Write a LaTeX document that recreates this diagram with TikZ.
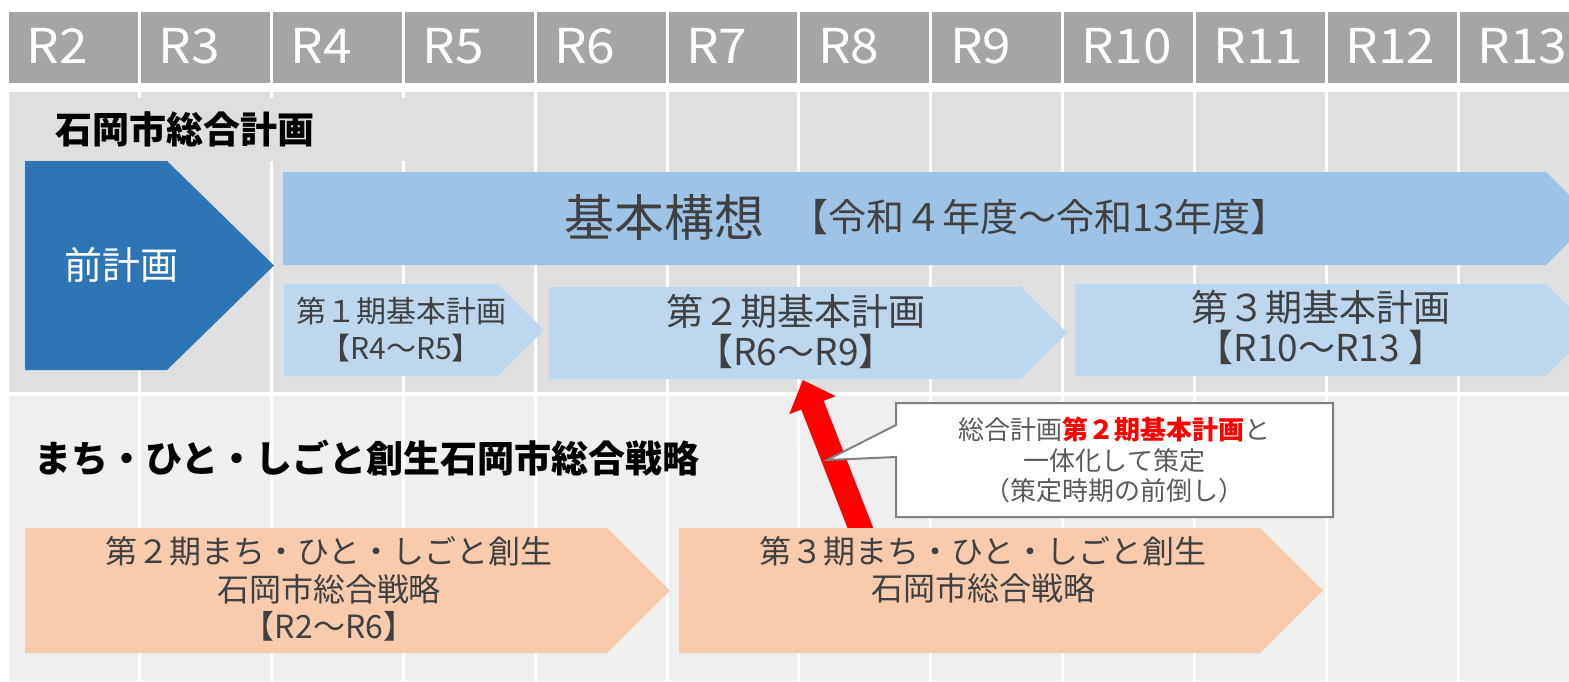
\documentclass[tikz,border=0pt]{standalone}
\usepackage{fontspec}
\setmainfont{Noto Sans CJK JP}
\newfontfamily\hdrfont[FakeStretch=1.07]{Noto Sans CJK JP}
\usetikzlibrary{arrows.meta, positioning}

\definecolor{hdrgray}{HTML}{A5A5A5}
\definecolor{bandA}{HTML}{DFDFDF}
\definecolor{bandB}{HTML}{EFEFEF}
\definecolor{prevblue}{HTML}{2E75B6}
\definecolor{visionblue}{HTML}{9DC3E6}
\definecolor{planblue}{HTML}{BDD7EE}
\definecolor{stratorange}{HTML}{F8CBAD}
\definecolor{txtgray}{HTML}{404040}
\definecolor{notegray}{HTML}{808080}

\begin{document}
\begin{tikzpicture}[x=1pt, y=-1pt,
	hdr/.style={text=white, font=\hdrfont\fontsize{48}{48}\selectfont, anchor=base west, inner sep=0pt},
	sectitle/.style={font=\fontsize{37}{37}\selectfont\bfseries, anchor=west, inner sep=0pt},
	boxtext/.style={text=txtgray, align=center, inner sep=0pt},
	grid/.style={white, line width=3pt},
	redarrow/.style={red, line width=24pt, -{Triangle[width=48pt, length=27pt]}},
	note/.style={fill=white, draw=notegray, line width=2pt}]

	\useasboundingbox (0,0) rectangle (1569,681);
	\clip (0,0) rectangle (1569,681);

	% year header
	\foreach \k [evaluate=\k as \xl using {7.5+131.9*(\k-2)}] in {2,...,13} {
		\fill[hdrgray] (\xl+1.5,12) rectangle (\xl+130.4,83);
		\node[hdr] (R\k) at (\xl+19,63) {R\k};
	}

	% bands
	\fill[bandA] (9,92) rectangle (1569,392);
	\fill[bandB] (9,396) rectangle (1569,681);
	\foreach \k in {1,...,11}
		\draw[grid] ({7.5+131.9*\k},92) -- ({7.5+131.9*\k},681);

	\node[sectitle, fill=bandA, text width=412pt, inner xsep=46pt, minimum height=63pt] (planTitle) at (9,129) {石岡市総合計画};

	% plan bars
	\fill[prevblue] (25,161) -- (167,161) -- (274,265.5) -- (167,370) -- (25,370) -- cycle;
	\fill[visionblue] (283,172) -- (1546,172) -- (1592.5,218.5) -- (1546,265) -- (283,265) -- cycle;
	\fill[planblue] (284,284) -- (498,284) -- (544,330) -- (498,376) -- (284,376) -- cycle;
	\fill[planblue] (549,287) -- (1021,287) -- (1067,333) -- (1021,379) -- (549,379) -- cycle;
	\fill[planblue] (1075,284) -- (1546,284) -- (1592,330) -- (1546,376) -- (1075,376) -- cycle;

	% arrow
	\coordinate (arrFrom) at (867,545);
	\coordinate (arrTo) at (802.7,380);
	\draw[redarrow] (arrFrom) -- (arrTo);

	% strategy bars
	\fill[stratorange] (25,528) -- (607,528) -- (670,590.5) -- (607,653) -- (25,653) -- cycle;
	\fill[stratorange] (679,528) -- (1260,528) -- (1323,590.5) -- (1260,653) -- (679,653) -- cycle;

	% callout
	\draw[note] (896,403) -- (1333,403) -- (1333,517) -- (896,517) -- (896,457) -- (827,460) -- (896,425) -- cycle;

	\node[boxtext, text=white, font=\fontsize{38}{38}\selectfont] (prev) at (121,265) {前計画};
	\node[boxtext, font=\fontsize{50}{50}\selectfont] (vision) at (664,217) {基本構想};
	\node[boxtext, font=\fontsize{38}{38}\selectfont, right=26pt of vision] (visionYrs) {【令和４年度～令和13年度】};
	\node[boxtext, font=\fontsize{30}{37}\selectfont] (plan1) at (401,330) {第１期基本計画\\【R4～R5】};
	\node[boxtext, font=\fontsize{37}{40}\selectfont] (plan2) at (796,331) {第２期基本計画\\【R6～R9】};
	\node[boxtext, font=\fontsize{37}{40}\selectfont] (plan3) at (1321,327) {第３期基本計画\\【R10～R13 】};

	\node[sectitle] (stratTitle) at (34,458) {まち・ひと・しごと創生石岡市総合戦略};
	\node[boxtext, font=\fontsize{32}{37.5}\selectfont] (strat2) at (329,589) {第２期まち・ひと・しごと創生\\石岡市総合戦略\\【R2～R6】};
	\node[boxtext, font=\fontsize{32}{37.5}\selectfont] (strat3) at (983,570) {第３期まち・ひと・しごと創生\\石岡市総合戦略};

	\node[boxtext, text=notegray!70!black, font=\fontsize{26}{30.5}\selectfont] (noteText) at (1114.5,460) {総合計画\textcolor{red}{\bfseries 第２期基本計画}と\\一体化して策定\\（策定時期の前倒し）};

\end{tikzpicture}
\end{document}
